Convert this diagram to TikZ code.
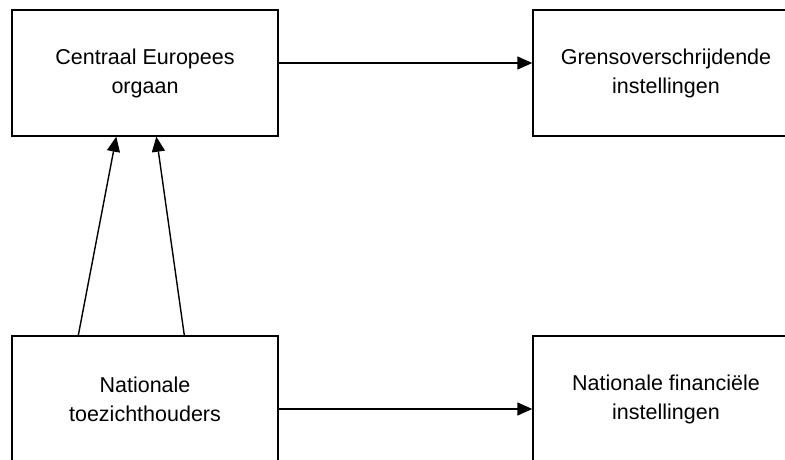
\documentclass[tikz,border=0pt]{standalone}
\usepackage{fontspec}
\setmainfont{Liberation Sans}
\usetikzlibrary{arrows.meta,positioning,calc}
\tikzset{%
    org_block/.style={%
        rectangle, draw=black, line width=1.4pt, minimum width=266pt, minimum height=126pt,
        align=center, font=\fontsize{21.5pt}{29pt}\selectfont
    },
    flow/.style={%
        line width=1.4pt, -{Triangle[length=15pt,width=13pt]}
    },
}
\begin{document}
\begin{tikzpicture}[x=1pt,y=1pt]
      \useasboundingbox (0,0) rectangle (785,-460);
      \node[org_block] (ceo) at (145,-73) {Centraal Europees\\orgaan};
      \node[org_block] (grens) at (666,-73) {Grensoverschrijdende\\instellingen};
      \node[org_block] (nat) at (145,-399) {Nationale\\toezichthouders};
      \node[org_block] (natfin) at (666,-399) {Nationale financiële\\instellingen};

      \draw[flow] ([yshift=10pt]ceo.east) -- ([yshift=10pt]grens.west);
      \draw[flow] ([yshift=-10pt]nat.east) -- ([yshift=-10pt]natfin.west);

      \draw[flow] ([xshift=67pt]nat.north west) -- ([xshift=105pt]ceo.south west);
      \draw[flow] ([xshift=173pt]nat.north west) -- ([xshift=145pt]ceo.south west);
\end{tikzpicture}
\end{document}
